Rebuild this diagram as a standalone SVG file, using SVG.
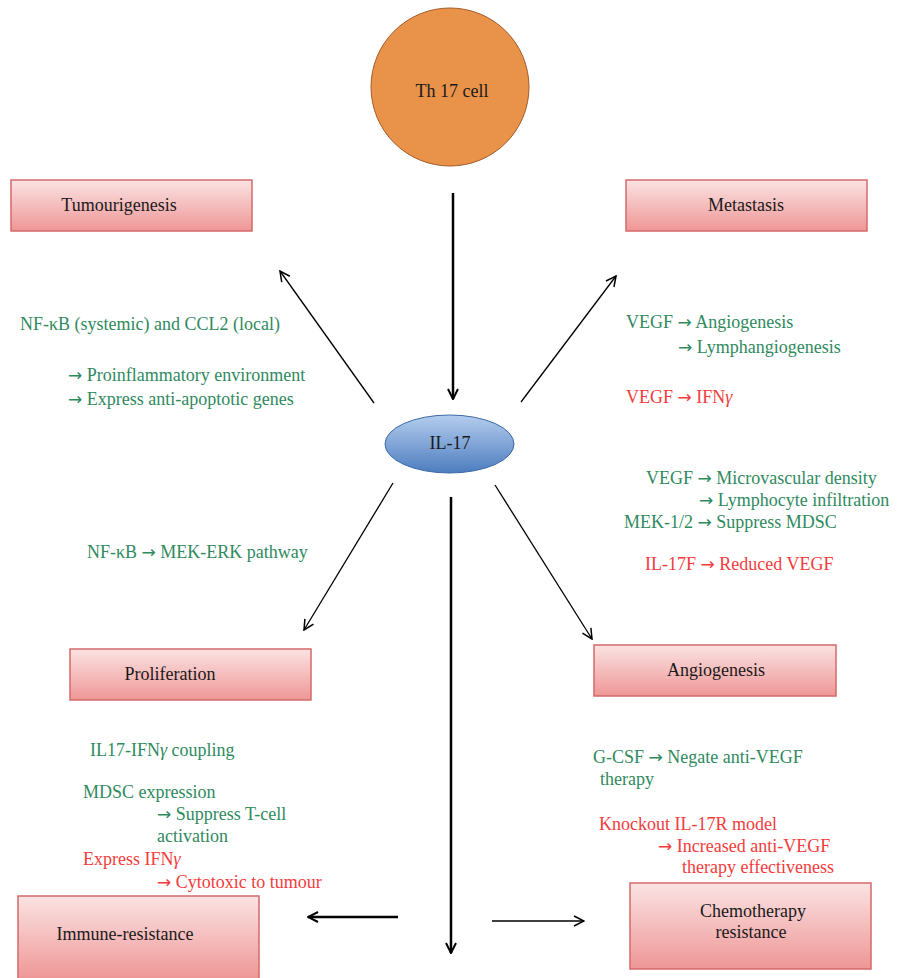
<svg xmlns="http://www.w3.org/2000/svg" width="900" height="978" viewBox="0 0 900 978">
<defs>
<linearGradient id="boxg" x1="0" y1="0" x2="0" y2="1">
<stop offset="0" stop-color="#fbe3e3"/>
<stop offset="1" stop-color="#ef9696"/>
</linearGradient>
<linearGradient id="ellg" x1="0" y1="0" x2="0" y2="1">
<stop offset="0" stop-color="#b4cdee"/>
<stop offset="1" stop-color="#4d7dbf"/>
</linearGradient>
<marker id="ah" viewBox="0 0 12 12" refX="11" refY="6" markerWidth="12" markerHeight="12" markerUnits="userSpaceOnUse" orient="auto">
<path d="M1,1 L11,6 L1,11" fill="none" stroke="#000" stroke-width="1.5"/>
</marker>
<marker id="ahb" viewBox="0 0 12 12" refX="11" refY="6" markerWidth="12" markerHeight="12" markerUnits="userSpaceOnUse" orient="auto">
<path d="M1,1 L11,6 L1,11" fill="none" stroke="#000" stroke-width="2"/>
</marker>
</defs>
<style>
text{font-family:"Liberation Serif","Times New Roman",serif;font-size:18px}
.ar{font-family:"DejaVu Sans",sans-serif;font-size:17px}
.box{fill:url(#boxg);stroke:#d46a6a;stroke-width:1.5}
.lbl{fill:#1a1a1a}
.g{fill:#2f8a5e}
.r{fill:#f23c3c}
.thin{stroke:#000;stroke-width:1.3;fill:none;marker-end:url(#ah)}
.thick{stroke:#000;stroke-width:2.5;fill:none;marker-end:url(#ahb)}
</style>
<rect width="900" height="978" fill="#fff"/>

<g id="connectors">
<line class="thick" x1="453" y1="193" x2="453" y2="399"/>
<line class="thin" x1="374" y1="403" x2="280" y2="271"/>
<line class="thin" x1="521" y1="402" x2="616" y2="276"/>
<line class="thin" x1="393" y1="483" x2="304" y2="630"/>
<line class="thin" x1="495" y1="485" x2="592" y2="639"/>
<line class="thick" x1="451" y1="497" x2="451" y2="953"/>
<line class="thick" x1="398" y1="917" x2="308" y2="917"/>
<line class="thin" x1="492" y1="921" x2="584" y2="921"/>
</g>

<g id="th17">
<circle cx="450" cy="87" r="79" fill="#e9934a" stroke="#a35a2a" stroke-width="1"/>
<text class="lbl" x="452" y="97" text-anchor="middle">Th 17 cell</text>
</g>

<g id="il17">
<ellipse cx="449.5" cy="444" rx="64.5" ry="29" fill="url(#ellg)" stroke="#3d6aa6" stroke-width="1"/>
<text class="lbl" x="450" y="449" text-anchor="middle">IL-17</text>
</g>

<g id="tumourigenesis">
<rect class="box" x="11" y="180" width="241" height="51"/>
<text class="lbl" x="119" y="211" text-anchor="middle">Tumourigenesis</text>
</g>

<g id="metastasis">
<rect class="box" x="626" y="180" width="241" height="51"/>
<text class="lbl" x="746" y="211" text-anchor="middle">Metastasis</text>
</g>

<g id="proliferation">
<rect class="box" x="70" y="649" width="241" height="51"/>
<text class="lbl" x="170" y="680" text-anchor="middle">Proliferation</text>
</g>

<g id="angiogenesis">
<rect class="box" x="594" y="645" width="242" height="51"/>
<text class="lbl" x="716" y="676" text-anchor="middle">Angiogenesis</text>
</g>

<g id="immune-resistance">
<rect class="box" x="18" y="896" width="241" height="84"/>
<text class="lbl" x="125" y="940" text-anchor="middle">Immune-resistance</text>
</g>

<g id="chemotherapy-resistance">
<rect class="box" x="630" y="883" width="241" height="86"/>
<text class="lbl" x="753" y="917" text-anchor="middle">Chemotherapy</text>
<text class="lbl" x="751" y="938" text-anchor="middle">resistance</text>
</g>

<g id="annotations">
<text class="g" x="20" y="330">NF-κB (systemic) and CCL2 (local)</text>
<text class="g" x="68" y="381"><tspan class="ar">→</tspan> Proinflammatory environment</text>
<text class="g" x="68" y="405"><tspan class="ar">→</tspan> Express anti-apoptotic genes</text>

<text class="g" x="626" y="328">VEGF <tspan class="ar">→</tspan> Angiogenesis</text>
<text class="g" x="678" y="353"><tspan class="ar">→</tspan> Lymphangiogenesis</text>
<text class="r" x="626" y="403">VEGF <tspan class="ar">→</tspan> IFN<tspan font-style="italic">γ</tspan></text>

<text class="g" x="646" y="484">VEGF <tspan class="ar">→</tspan> Microvascular density</text>
<text class="g" x="699" y="506"><tspan class="ar">→</tspan> Lymphocyte infiltration</text>
<text class="g" x="624" y="528">MEK-1/2 <tspan class="ar">→</tspan> Suppress MDSC</text>
<text class="r" x="645" y="570">IL-17F <tspan class="ar">→</tspan> Reduced VEGF</text>

<text class="g" x="87" y="558">NF-κB <tspan class="ar">→</tspan> MEK-ERK pathway</text>

<text class="g" x="90" y="756">IL17-IFN<tspan font-style="italic">γ</tspan> coupling</text>
<text class="g" x="83" y="798">MDSC expression</text>
<text class="g" x="157" y="820"><tspan class="ar">→</tspan> Suppress T-cell</text>
<text class="g" x="157" y="842">activation</text>
<text class="r" x="83" y="865">Express IFN<tspan font-style="italic">γ</tspan></text>
<text class="r" x="157" y="888"><tspan class="ar">→</tspan> Cytotoxic to tumour</text>

<text class="g" x="593" y="763">G-CSF <tspan class="ar">→</tspan> Negate anti-VEGF</text>
<text class="g" x="600" y="785">therapy</text>
<text class="r" x="599" y="830">Knockout IL-17R model</text>
<text class="r" x="658" y="852"><tspan class="ar">→</tspan> Increased anti-VEGF</text>
<text class="r" x="682" y="873">therapy effectiveness</text>
</g>
</svg>
